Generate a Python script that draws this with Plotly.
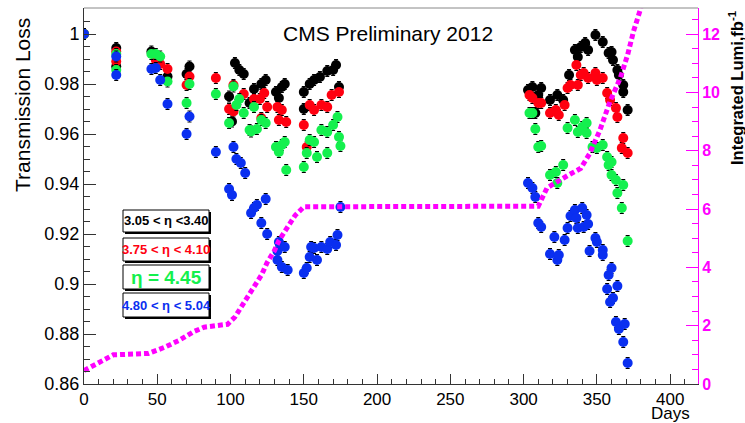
import plotly.graph_objects as go

# ---------------- data ----------------
black_days = [0, 22, 22, 46, 57, 70, 72, 99, 101, 103, 106, 109, 113, 116, 121, 124, 131, 133, 135, 137,
              150, 150, 154, 157, 161, 166, 170, 172, 174,
              303, 306, 308, 310, 312, 318, 323, 327, 331, 335, 337, 339, 342, 344, 349, 354, 358, 360,
              361, 364, 365, 368, 368, 371]
black_vals = [1.0, 0.9944, 0.987, 0.993, 0.983, 0.984, 0.987, 0.975, 0.965, 0.9884, 0.9856, 0.984, 0.9724,
              0.978, 0.980, 0.9816, 0.9768, 0.9744, 0.9788, 0.980,
              0.9768, 0.970, 0.980, 0.9816, 0.9828, 0.9852, 0.9856, 0.9876, 0.9788,
              0.9776, 0.9788, 0.9684, 0.9756, 0.9784, 0.9736, 0.9756, 0.9736, 0.9836, 0.9936, 0.9908,
              0.9948, 0.9964, 0.9936, 0.9996, 0.9968, 0.9924, 0.9928, 0.9896, 0.9856, 0.9836, 0.9796,
              0.9768, 0.9696]

red_days = [0, 22, 22, 49, 52, 57, 70, 72, 90, 99, 102, 102, 109, 116, 120, 121, 123, 125, 132, 133, 135,
            138, 150, 152, 154, 157, 162, 166, 169, 174,
            304, 306, 310, 312, 318, 322, 324, 328, 330, 332, 336, 337, 339, 341, 344, 349, 350, 354, 357,
            359, 363, 364, 367, 368, 371]
red_vals = [1.0, 0.993, 0.989, 0.9896, 0.988, 0.986, 0.9796, 0.983, 0.9824, 0.970, 0.9796, 0.969, 0.976,
            0.974, 0.974, 0.9664, 0.9764, 0.9708, 0.9708, 0.9656, 0.9696, 0.9648, 0.9636, 0.9548, 0.9716,
            0.9696, 0.9716, 0.9708, 0.9756, 0.9768,
            0.9756, 0.9744, 0.9724, 0.9724, 0.9684, 0.9696, 0.9676, 0.9716, 0.9784, 0.9796, 0.9876,
            0.9796, 0.9836, 0.9844, 0.9824, 0.9844, 0.9816, 0.9824, 0.9764, 0.9736, 0.9704, 0.9668,
            0.9544, 0.9584, 0.9524]

green_days = [0, 22, 22, 46, 49, 52, 57, 70, 72, 90, 99, 102, 104, 106, 109, 113, 114, 116, 118, 121, 124,
              131, 133, 135, 137, 138, 150, 152, 154, 157, 159, 162, 166, 166, 170, 173, 174, 175,
              304, 306, 308, 310, 312, 318, 322, 323, 327, 330, 335, 337, 340, 343, 343, 347, 350, 354,
              357, 358, 360, 360, 363, 364, 367, 368, 371]
green_vals = [1.0, 0.992, 0.9856, 0.992, 0.992, 0.991, 0.981, 0.9724, 0.980, 0.976, 0.9644, 0.979, 0.9716,
              0.974, 0.9684, 0.9616, 0.961, 0.9708, 0.962, 0.9656, 0.9644, 0.9548, 0.9528, 0.9556, 0.9568,
              0.9456, 0.9468, 0.9524, 0.9576, 0.9568, 0.9508, 0.9616, 0.9608, 0.9524, 0.9636, 0.9668,
              0.9588, 0.9552,
              0.9684, 0.9684, 0.962, 0.9548, 0.9552, 0.9436, 0.9448, 0.9404, 0.9476, 0.9624, 0.9656,
              0.9608, 0.9628, 0.9644, 0.9604, 0.9548, 0.9544, 0.9556, 0.9508, 0.9476, 0.9488, 0.9436,
              0.9416, 0.9364, 0.9304, 0.9396, 0.9172]

blue_days = [0, 22, 22, 46, 49, 52, 57, 70, 72, 90, 99, 101, 102, 104, 107, 110, 114, 116, 118, 121, 124,
             125, 132, 132, 133, 135, 137, 139, 150, 152, 154, 155, 157, 159, 162, 166, 168, 172, 173, 175,
             303, 306, 308, 310, 312, 318, 321, 323, 324, 328, 330, 332, 335, 336, 337, 340, 341, 343, 344,
             345, 349, 350, 354, 354, 357, 358, 359, 360, 361, 363, 364, 365, 368, 369, 371]
blue_vals = [1.0, 0.991, 0.9836, 0.986, 0.9864, 0.9816, 0.972, 0.960, 0.967, 0.9528, 0.938, 0.9356, 0.9548,
             0.950, 0.9484, 0.9444, 0.9284, 0.9304, 0.9316, 0.9244, 0.934, 0.920, 0.9132, 0.9096, 0.9168,
             0.9068, 0.9148, 0.9056, 0.9044, 0.9064, 0.9108, 0.9148, 0.9144, 0.9096, 0.9148, 0.914, 0.9168,
             0.9156, 0.9196, 0.9308,
             0.9404, 0.9384, 0.9348, 0.9244, 0.9228, 0.912, 0.9188, 0.9096, 0.9116, 0.9176, 0.9224, 0.9272,
             0.9296, 0.9264, 0.9224, 0.9304, 0.9228, 0.9276, 0.924, 0.9132, 0.9184, 0.9168, 0.9136, 0.9116,
             0.898, 0.9036, 0.8928, 0.9064, 0.8944, 0.8848, 0.8992, 0.882, 0.8768, 0.884, 0.8684]

lumi_days = [0, 10, 20, 30, 44, 55, 65, 75, 82, 90, 98, 103, 108, 115, 121, 125, 130, 133, 138, 144, 150,
             200, 250, 310, 316, 323, 330, 339, 345, 352, 359, 366, 371, 375, 380]
lumi_vals = [0.46, 0.75, 1.0, 1.02, 1.05, 1.26, 1.5, 1.8, 1.95, 2.0, 2.05, 2.3, 2.7, 3.28, 3.73, 4.17,
             4.58, 4.92, 5.33, 5.78, 6.08, 6.08, 6.08, 6.1, 6.73, 6.95, 7.15, 7.4, 7.9, 8.7, 9.7, 10.5,
             11.3, 12.1, 12.9]

y_tickvals = [0.86, 0.88, 0.9, 0.92, 0.94, 0.96, 0.98, 1.0]
y_ticktext = ["0.86", "0.88", "0.9", "0.92", "0.94", "0.96", "0.98", "1"]
x_tickvals = [0, 50, 100, 150, 200, 250, 300, 350, 400]
y2_tickvals = [0, 2, 4, 6, 8, 10, 12]

legend_labels = ["3.05 < η <3.40", "3.75 < η < 4.10", "η = 4.45", "4.80 < η < 5.04"]
series_colors = ["#000000", "#ff0010", "#14f04e", "#0a2ff0"]

# ---------------- figure ----------------
W, H = 745, 423
L, R, T, B = 84, 47, 8, 39
PW, PH = W - L - R, H - T - B


def px(x):
    return (x - L) / PW


def py(y):
    return (H - B - y) / PH


FONT = "Liberation Sans, Arial, Helvetica, sans-serif"

fig = go.Figure()
err = dict(type="constant", value=0.0022, color="#000000", thickness=1, width=2)
for d, v, c in zip([black_days, red_days, green_days, blue_days],
                   [black_vals, red_vals, green_vals, blue_vals], series_colors):
    fig.add_trace(go.Scatter(x=d, y=v, mode="markers",
                             marker=dict(color=c, size=10, line=dict(width=0)),
                             error_y=err, showlegend=False, hoverinfo="skip"))

fig.add_trace(go.Scatter(x=lumi_days, y=lumi_vals, yaxis="y2", mode="lines",
                         line=dict(color="#ff00ff", width=5, dash="5px,3px"),
                         showlegend=False, hoverinfo="skip"))

fig.update_layout(
    width=W, height=H,
    margin=dict(l=L, r=R, t=T, b=B, pad=0),
    paper_bgcolor="white", plot_bgcolor="white",
    font=dict(family=FONT, color="black"),
    xaxis=dict(range=[0, 419], showgrid=False, zeroline=False, showline=True, linecolor="#333",
               linewidth=1, ticks="inside", ticklen=10, tickcolor="#333", tickvals=x_tickvals,
               tickfont=dict(size=17), automargin=False,
               minor=dict(dtick=10, ticks="inside", ticklen=5, tickcolor="#333")),
    yaxis=dict(range=[0.86, 1.0104], showgrid=False, zeroline=False, showline=True, linecolor="#333",
               linewidth=1, ticks="inside", ticklen=12, tickcolor="#333", tickvals=y_tickvals,
               ticktext=y_ticktext, tickfont=dict(size=18), automargin=False,
               minor=dict(dtick=0.005, tick0=0.86, ticks="inside", ticklen=6, tickcolor="#333")),
    yaxis2=dict(overlaying="y", side="right", range=[0, 12.9], showgrid=False, zeroline=False,
                showline=True, linecolor="#ff00ff", linewidth=1, ticks="inside", ticklen=12,
                tickcolor="#ff00ff", tickvals=y2_tickvals, automargin=False,
                tickfont=dict(size=16, color="#ff00ff", weight="bold"),
                minor=dict(dtick=0.5, tick0=0, ticks="inside", ticklen=6, tickcolor="#ff00ff")),
)

shapes = [dict(type="line", xref="paper", yref="paper", x0=0, x1=1, y0=1, y1=1,
               line=dict(color="#888", width=1), layer="above")]

annotations = [
    dict(text="Transmission Loss", xref="paper", yref="paper", x=px(22), y=py(105), textangle=-90,
         showarrow=False, font=dict(size=21, color="black"), xanchor="center", yanchor="middle"),
    dict(text="<b>Integrated Lumi,fb<sup>-1</sup></b>", xref="paper", yref="paper", x=px(736),
         y=py(88), textangle=-90, showarrow=False, font=dict(size=16.5, color="black"),
         xanchor="center", yanchor="middle"),
    dict(text="Days", xref="paper", yref="paper", x=px(670), y=py(413), showarrow=False,
         font=dict(size=17, color="black"), xanchor="center", yanchor="middle"),
    dict(text="CMS Preliminary 2012", xref="paper", yref="paper", x=px(388), y=py(33),
         showarrow=False, font=dict(size=21, color="black"), xanchor="center", yanchor="middle"),
]

boxes = [(210, 232, 13), (238, 261, 13), (265, 289, 19), (293, 317, 13)]
bx0, bx1 = 123, 209
for (y0, y1, fs), lab, col in zip(boxes, legend_labels, series_colors):
    shapes.append(dict(type="rect", xref="paper", yref="paper", x0=px(bx0 + 2), x1=px(bx1 + 2),
                       y0=py(y1 + 2), y1=py(y0 + 2), fillcolor="black", line=dict(width=0),
                       layer="above"))
    shapes.append(dict(type="rect", xref="paper", yref="paper", x0=px(bx0), x1=px(bx1),
                       y0=py(y1), y1=py(y0), fillcolor="white", line=dict(color="black", width=1),
                       layer="above"))
    annotations.append(dict(text="<b>%s</b>" % lab, xref="paper", yref="paper",
                            x=px((bx0 + bx1) / 2), y=py((y0 + y1) / 2), showarrow=False,
                            font=dict(size=fs, color=col), xanchor="center", yanchor="middle"))

fig.update_layout(shapes=shapes, annotations=annotations)
fig.write_html("out.html", config={"displayModeBar": False},
               post_script="document.body.style.margin='0';")
